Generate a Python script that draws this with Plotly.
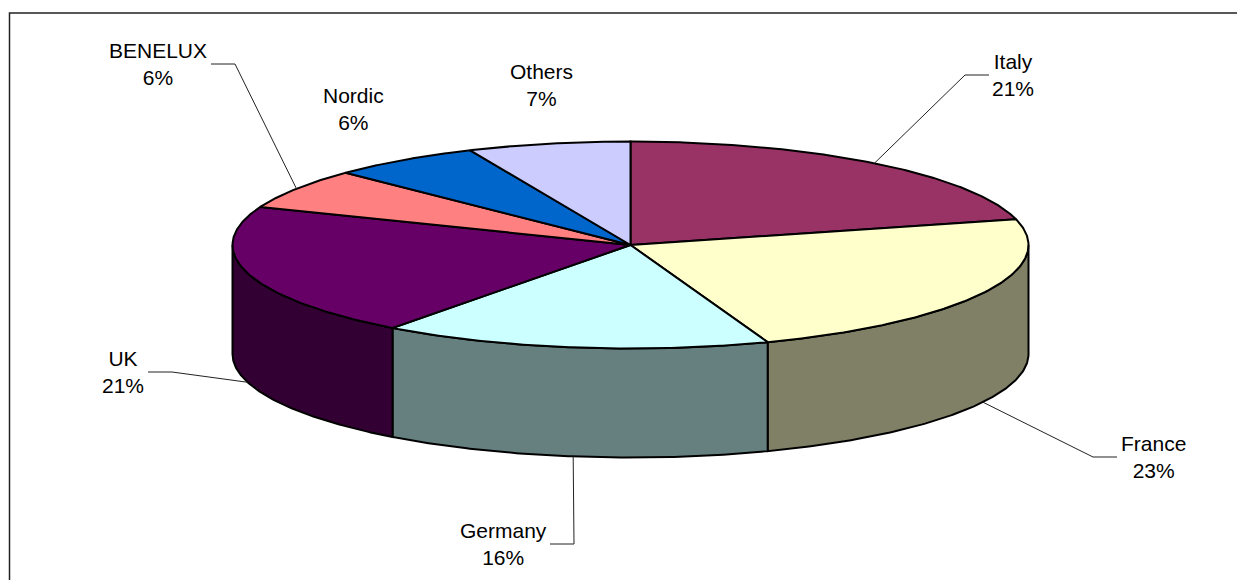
import numpy as np
import plotly.graph_objects as go

# --- data ---
categories = ["Italy", "France", "Germany", "UK", "BENELUX", "Nordic", "Others"]
shares = [21.0, 23.4, 15.8, 20.8, 6.3, 6.1, 6.6]

# --- styles ---
top_colors = ["#993366", "#FFFFCC", "#CCFFFF", "#660066", "#FF8080", "#0066CC", "#CCCCFF"]
side_colors = ["#4D1933", "#808066", "#668080", "#330033", "#804040", "#003366", "#666680"]
FONT = "Liberation Sans, Arial, sans-serif"

# --- projection of the pie (page pixels) ---
CX, CY, RX, RY, DEPTH = 630.5, 245.0, 398.0, 103.5, 109.0

# --- label placement (page pixels): centre of text, leader elbow, leader start ---
label_pos = {
    "Italy": (1013, 75), "France": (1153, 457), "Germany": (503, 544), "UK": (123, 372),
    "BENELUX": (158, 64), "Nordic": (353, 109), "Others": (541, 85),
}
leader_path = {
    "Italy": ((989, 75), (965, 75)),
    "France": ((1117, 457), (1093, 457)),
    "Germany": ((550, 544), (574, 544)),
    "UK": ((148, 372), (172, 372)),
    "BENELUX": ((211, 64), (235, 64)),
}


def px(theta):
    return CX + RX * np.sin(theta)


def py(theta, drop=0.0):
    return CY - RY * np.cos(theta) + drop


edges = np.concatenate([[0], np.cumsum(shares)]) / np.sum(shares) * 2 * np.pi
fig = go.Figure()

# walls of the pie: only the front half of the rim is visible
for i, name in enumerate(categories):
    a, b = max(edges[i], np.pi / 2), min(edges[i + 1], 3 * np.pi / 2)
    if a >= b:
        continue
    t = np.linspace(a, b, 120)
    xs = np.concatenate([px(t), px(t[::-1])])
    ys = np.concatenate([py(t), py(t[::-1], DEPTH)])
    fig.add_trace(go.Scatter(
        x=np.append(xs, xs[0]), y=np.append(ys, ys[0]), mode="lines", fill="toself",
        fillcolor=side_colors[i], line=dict(color="#000000", width=2),
        name=name, hoverinfo="name", showlegend=False,
    ))

# top face
for i, name in enumerate(categories):
    t = np.linspace(edges[i], edges[i + 1], 160)
    xs = np.concatenate([[CX], px(t), [CX]])
    ys = np.concatenate([[CY], py(t), [CY]])
    fig.add_trace(go.Scatter(
        x=xs, y=ys, mode="lines", fill="toself", fillcolor=top_colors[i],
        line=dict(color="#000000", width=2),
        name=name, hoverinfo="name", showlegend=False,
    ))

# leader lines end on the rim at each slice's middle angle
for i, name in enumerate(categories):
    if name not in leader_path:
        continue
    mid = (edges[i] + edges[i + 1]) / 2
    on_front = np.pi / 2 < mid < 3 * np.pi / 2
    end = (px(mid), py(mid, DEPTH if on_front else 0.0))
    (x0, y0), (x1, y1) = leader_path[name]
    fig.add_trace(go.Scatter(
        x=[x0, x1, end[0]], y=[y0, y1, end[1]], mode="lines",
        line=dict(color="#222222", width=1), hoverinfo="skip", showlegend=False,
    ))

# labels
annotations = [
    dict(x=label_pos[n][0], y=label_pos[n][1], text=f"{n}<br>{round(v)}%", showarrow=False,
         xref="x", yref="y", xanchor="center", yanchor="middle", align="center",
         font=dict(family=FONT, size=21, color="#000000"))
    for n, v in zip(categories, shares)
]

fig.update_layout(
    width=1237, height=580, margin=dict(l=0, r=0, t=0, b=0),
    paper_bgcolor="#FFFFFF", plot_bgcolor="#FFFFFF", showlegend=False,
    xaxis=dict(range=[0, 1237], visible=False, fixedrange=True),
    yaxis=dict(range=[580, 0], visible=False, fixedrange=True),
    annotations=annotations,
    shapes=[dict(type="rect", xref="x", yref="y", x0=9.5, y0=13, x1=1300, y1=700,
                 line=dict(color="#222222", width=1.5), layer="below")],
)

fig.write_html("out.html", config={"displayModeBar": False},
               post_script="document.body.style.margin='0';document.body.style.overflow='hidden';")
